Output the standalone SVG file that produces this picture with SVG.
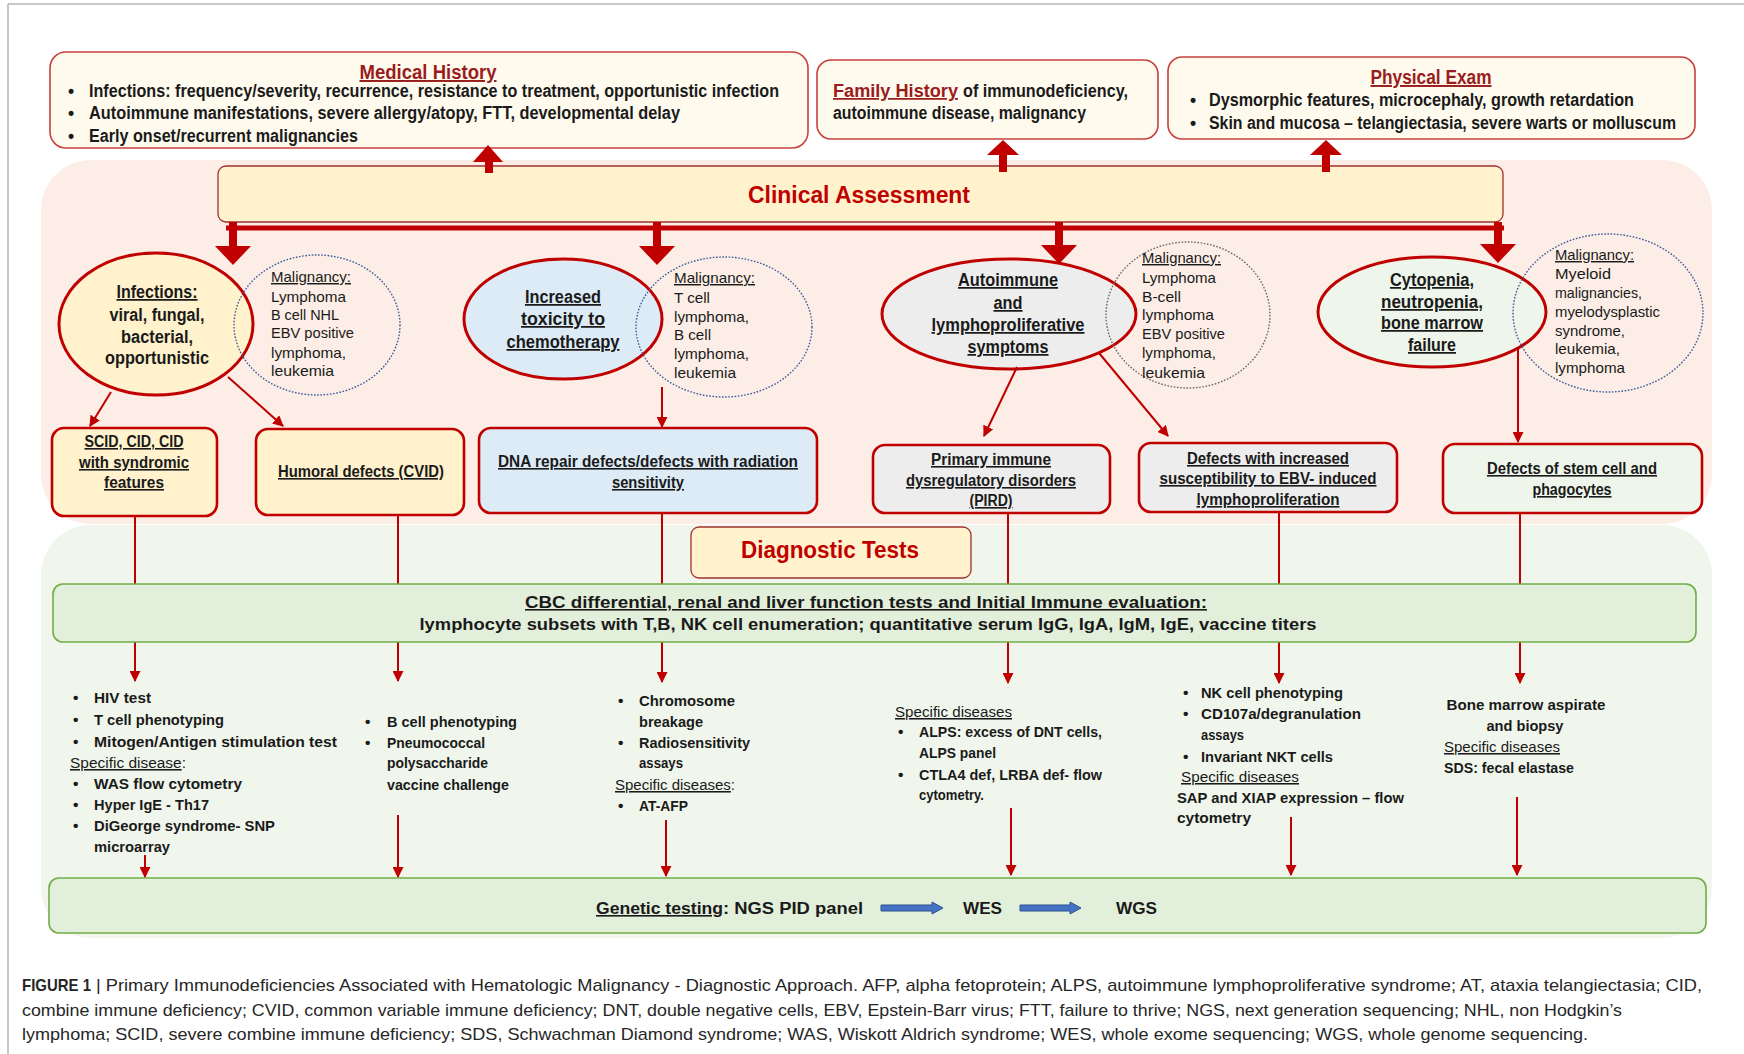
<svg xmlns="http://www.w3.org/2000/svg" width="1744" height="1054" viewBox="0 0 1744 1054">
<style>
text{font-family:"Liberation Sans",Arial,sans-serif;fill:#1a1a1a}
.b{font-weight:bold}
.u{text-decoration:underline}
.m{text-anchor:middle}
.s155{font-size:15.5px}
.s16{font-size:16px}
.s17{font-size:17.5px}
.s145{font-size:14.5px}
.ttl{font-size:19.5px;font-weight:bold;fill:#9A1C1C;text-decoration:underline}
.big{font-size:23px;font-weight:bold;fill:#C00000}
.cap{font-size:17px;fill:#262626}
.topbox{fill:#FFFAEE;stroke:#C8403C;stroke-width:1.6}
.hdr{fill:#FFF2CC;stroke:#A03030;stroke-width:1.3}
.rbox{stroke:#C00000;stroke-width:2.6}
.ell{stroke:#C00000;stroke-width:3}
.yel{fill:#FFF2CC}.blu{fill:#DDEBF7}.gry{fill:#EDEDED}.grn{fill:#EEF5EA}
.mal{fill:none;stroke-width:1.4;stroke-dasharray:1.6 1.6}
.mb{stroke:#3E5C9A}.mg{stroke:#6A6A6A}
.gbox{fill:#E2EFDA;stroke:#70AD47;stroke-width:1.6}
.ln{stroke:#C00000;stroke-width:2;fill:none}
.thick{fill:#C00000}
.blue{fill:#4472C4;stroke:#2F528F;stroke-width:1}
</style>
<defs>
<marker id="ah" viewBox="0 0 10 10" refX="9" refY="5" markerWidth="11" markerHeight="11" markerUnits="userSpaceOnUse" orient="auto"><path d="M0,0 L10,5 L0,10 z" fill="#C00000"/></marker>
</defs>

<!-- frame -->
<line x1="8" y1="4" x2="1744" y2="4" stroke="#B4B4B4" stroke-width="1.5"/>
<line x1="8" y1="4" x2="8" y2="1054" stroke="#B4B4B4" stroke-width="1.5"/>

<!-- background panels -->
<g id="panel-clinical"><rect x="41" y="160" width="1671" height="364" rx="50" fill="#FCEEE6"/></g>
<g id="panel-diagnostic"><rect x="41" y="525" width="1671" height="413" rx="50" fill="#F0F6EC"/></g>

<!-- top boxes -->
<g id="medical-history">
<rect class="topbox" x="50" y="52" width="758" height="96" rx="16"/>
<text class="ttl m" x="428" y="79" textLength="137" lengthAdjust="spacingAndGlyphs">Medical History</text>
<text class="b s17" x="68" y="97">•</text>
<text class="b s17" x="68" y="119">•</text>
<text class="b s17" x="68" y="142">•</text>
<text class="b s17" x="89" y="97" textLength="690" lengthAdjust="spacingAndGlyphs">Infections: frequency/severity, recurrence, resistance to treatment, opportunistic infection</text>
<text class="b s17" x="89" y="119" textLength="591" lengthAdjust="spacingAndGlyphs">Autoimmune manifestations, severe allergy/atopy, FTT, developmental delay</text>
<text class="b s17" x="89" y="142" textLength="269" lengthAdjust="spacingAndGlyphs">Early onset/recurrent malignancies</text>
</g>
<g id="family-history">
<rect class="topbox" x="817" y="60" width="341" height="79" rx="14"/>
<text class="ttl" x="833" y="97" style="font-size:17.5px" textLength="125" lengthAdjust="spacingAndGlyphs">Family History</text>
<text class="b s17" x="963" y="97" textLength="165" lengthAdjust="spacingAndGlyphs">of immunodeficiency,</text>
<text class="b s17" x="833" y="119" textLength="253" lengthAdjust="spacingAndGlyphs">autoimmune disease, malignancy</text>
</g>
<g id="physical-exam">
<rect class="topbox" x="1168" y="57" width="527" height="82" rx="14"/>
<text class="ttl m" x="1431" y="84" textLength="121" lengthAdjust="spacingAndGlyphs">Physical Exam</text>
<text class="b s17" x="1190" y="106">•</text>
<text class="b s17" x="1190" y="129">•</text>
<text class="b s17" x="1209" y="106" textLength="425" lengthAdjust="spacingAndGlyphs">Dysmorphic features, microcephaly, growth retardation</text>
<text class="b s17" x="1209" y="129" textLength="467" lengthAdjust="spacingAndGlyphs">Skin and mucosa – telangiectasia, severe warts or molluscum</text>
</g>

<g id="clinical-assessment">
<rect class="hdr" x="218" y="166" width="1285" height="56" rx="8"/>
<text class="big m" x="859" y="203" textLength="222" lengthAdjust="spacingAndGlyphs">Clinical Assessment</text>
</g>

<!-- ellipses -->
<g id="infections">
<ellipse class="ell yel" cx="156" cy="324" rx="97" ry="71"/>
<text class="b s17 m u" x="157" y="298" textLength="81" lengthAdjust="spacingAndGlyphs">Infections:</text>
<text class="b s17 m" x="157" y="321" textLength="95" lengthAdjust="spacingAndGlyphs">viral, fungal,</text>
<text class="b s17 m" x="157" y="343" textLength="72" lengthAdjust="spacingAndGlyphs">bacterial,</text>
<text class="b s17 m" x="157" y="364" textLength="104" lengthAdjust="spacingAndGlyphs">opportunistic</text>
</g>
<g id="malignancy-1">
<ellipse class="mal mb" cx="317" cy="325" rx="83" ry="70"/>
<text class="s145 u" x="271" y="282" textLength="80" lengthAdjust="spacingAndGlyphs">Malignancy:</text>
<text class="s145" x="271" y="302" textLength="75" lengthAdjust="spacingAndGlyphs">Lymphoma</text>
<text class="s145" x="271" y="320" textLength="68" lengthAdjust="spacingAndGlyphs">B cell NHL</text>
<text class="s145" x="271" y="338" textLength="83" lengthAdjust="spacingAndGlyphs">EBV positive</text>
<text class="s145" x="271" y="358" textLength="75" lengthAdjust="spacingAndGlyphs">lymphoma,</text>
<text class="s145" x="271" y="376" textLength="63" lengthAdjust="spacingAndGlyphs">leukemia</text>
</g>

<g id="toxicity">
<ellipse class="ell blu" cx="563" cy="319" rx="99" ry="60"/>
<text class="b s17 m u" x="563" y="303" textLength="76" lengthAdjust="spacingAndGlyphs">Increased</text>
<text class="b s17 m u" x="563" y="325" textLength="84" lengthAdjust="spacingAndGlyphs">toxicity to</text>
<text class="b s17 m u" x="563" y="348" textLength="113" lengthAdjust="spacingAndGlyphs">chemotherapy</text>
</g>
<g id="malignancy-2">
<ellipse class="mal mb" cx="724" cy="327" rx="88" ry="70"/>
<text class="s145 u" x="674" y="283" textLength="81" lengthAdjust="spacingAndGlyphs">Malignancy:</text>
<text class="s145" x="674" y="303" textLength="36" lengthAdjust="spacingAndGlyphs">T cell</text>
<text class="s145" x="674" y="322" textLength="75" lengthAdjust="spacingAndGlyphs">lymphoma,</text>
<text class="s145" x="674" y="340" textLength="37" lengthAdjust="spacingAndGlyphs">B cell</text>
<text class="s145" x="674" y="359" textLength="75" lengthAdjust="spacingAndGlyphs">lymphoma,</text>
<text class="s145" x="674" y="378" textLength="62" lengthAdjust="spacingAndGlyphs">leukemia</text>
</g>

<g id="autoimmune">
<ellipse class="ell gry" cx="1009" cy="314" rx="127" ry="55"/>
<text class="b s17 m u" x="1008" y="286" textLength="100" lengthAdjust="spacingAndGlyphs">Autoimmune</text>
<text class="b s17 m u" x="1008" y="309" textLength="29" lengthAdjust="spacingAndGlyphs">and</text>
<text class="b s17 m u" x="1008" y="331" textLength="153" lengthAdjust="spacingAndGlyphs">lymphoproliferative</text>
<text class="b s17 m u" x="1008" y="353" textLength="81" lengthAdjust="spacingAndGlyphs">symptoms</text>
</g>
<g id="malignancy-3">
<ellipse class="mal mg" cx="1188" cy="315" rx="82" ry="73"/>
<text class="s145 u" x="1142" y="263" textLength="79" lengthAdjust="spacingAndGlyphs">Malignancy:</text>
<text class="s145" x="1142" y="283" textLength="74" lengthAdjust="spacingAndGlyphs">Lymphoma</text>
<text class="s145" x="1142" y="302" textLength="39" lengthAdjust="spacingAndGlyphs">B-cell</text>
<text class="s145" x="1142" y="320" textLength="72" lengthAdjust="spacingAndGlyphs">lymphoma</text>
<text class="s145" x="1142" y="339" textLength="83" lengthAdjust="spacingAndGlyphs">EBV positive</text>
<text class="s145" x="1142" y="358" textLength="74" lengthAdjust="spacingAndGlyphs">lymphoma,</text>
<text class="s145" x="1142" y="378" textLength="63" lengthAdjust="spacingAndGlyphs">leukemia</text>
</g>

<g id="cytopenia">
<ellipse class="ell grn" cx="1432" cy="312" rx="114" ry="55"/>
<text class="b s17 m u" x="1432" y="286" textLength="84" lengthAdjust="spacingAndGlyphs">Cytopenia,</text>
<text class="b s17 m u" x="1432" y="308" textLength="102" lengthAdjust="spacingAndGlyphs">neutropenia,</text>
<text class="b s17 m u" x="1432" y="329" textLength="102" lengthAdjust="spacingAndGlyphs">bone marrow</text>
<text class="b s17 m u" x="1432" y="351" textLength="48" lengthAdjust="spacingAndGlyphs">failure</text>
</g>
<g id="malignancy-4">
<ellipse class="mal mb" cx="1608" cy="313" rx="95" ry="79"/>
<text class="s145 u" x="1555" y="260" textLength="79" lengthAdjust="spacingAndGlyphs">Malignancy:</text>
<text class="s145" x="1555" y="279" textLength="56" lengthAdjust="spacingAndGlyphs">Myeloid</text>
<text class="s145" x="1555" y="298" textLength="87" lengthAdjust="spacingAndGlyphs">malignancies,</text>
<text class="s145" x="1555" y="317" textLength="105" lengthAdjust="spacingAndGlyphs">myelodysplastic</text>
<text class="s145" x="1555" y="336" textLength="70" lengthAdjust="spacingAndGlyphs">syndrome,</text>
<text class="s145" x="1555" y="354" textLength="65" lengthAdjust="spacingAndGlyphs">leukemia,</text>
<text class="s145" x="1555" y="373" textLength="70" lengthAdjust="spacingAndGlyphs">lymphoma</text>
</g>

<!-- second-row boxes -->
<g id="scid">
<rect class="rbox yel" x="52" y="428" width="165" height="88" rx="12"/>
<text class="b s16 m u" x="134" y="447" textLength="99" lengthAdjust="spacingAndGlyphs">SCID, CID, CID</text>
<text class="b s16 m u" x="134" y="468" textLength="110" lengthAdjust="spacingAndGlyphs">with syndromic</text>
<text class="b s16 m u" x="134" y="488" textLength="60" lengthAdjust="spacingAndGlyphs">features</text>
</g>
<g id="humoral">
<rect class="rbox yel" x="256" y="429" width="208" height="86" rx="12"/>
<text class="b s16 m u" x="361" y="477" textLength="166" lengthAdjust="spacingAndGlyphs">Humoral defects (CVID)</text>
</g>
<g id="dna-repair">
<rect class="rbox blu" x="479" y="428" width="338" height="85" rx="12"/>
<text class="b s16 m u" x="648" y="467" textLength="300" lengthAdjust="spacingAndGlyphs">DNA repair defects/defects with radiation</text>
<text class="b s16 m u" x="648" y="488" textLength="72" lengthAdjust="spacingAndGlyphs">sensitivity</text>
</g>
<g id="pird">
<rect class="rbox gry" x="873" y="445" width="237" height="68" rx="12"/>
<text class="b s16 m u" x="991" y="465" textLength="120" lengthAdjust="spacingAndGlyphs">Primary immune</text>
<text class="b s16 m u" x="991" y="486" textLength="170" lengthAdjust="spacingAndGlyphs">dysregulatory disorders</text>
<text class="b s16 m u" x="991" y="506" textLength="43" lengthAdjust="spacingAndGlyphs">(PIRD)</text>
</g>
<g id="ebv">
<rect class="rbox gry" x="1139" y="443" width="258" height="69" rx="12"/>
<text class="b s16 m u" x="1268" y="464" textLength="162" lengthAdjust="spacingAndGlyphs">Defects with increased</text>
<text class="b s16 m u" x="1268" y="484" textLength="217" lengthAdjust="spacingAndGlyphs">susceptibility to EBV- induced</text>
<text class="b s16 m u" x="1268" y="505" textLength="143" lengthAdjust="spacingAndGlyphs">lymphoproliferation</text>
</g>
<g id="stem-cell">
<rect class="rbox grn" x="1443" y="444" width="259" height="69" rx="12"/>
<text class="b s16 m u" x="1572" y="474" textLength="170" lengthAdjust="spacingAndGlyphs">Defects of stem cell and</text>
<text class="b s16 m u" x="1572" y="495" textLength="79" lengthAdjust="spacingAndGlyphs">phagocytes</text>
</g>

<!-- connectors -->
<g id="connectors">
<!-- up arrows to history/exam boxes -->
<rect class="thick" x="485" y="158" width="8" height="15"/>
<polygon class="thick" points="473,162 503,162 488,145"/>
<rect class="thick" x="999" y="153" width="8" height="19"/>
<polygon class="thick" points="987,155 1019,155 1003,140"/>
<rect class="thick" x="1322" y="153" width="8" height="19"/>
<polygon class="thick" points="1310,155 1342,155 1326,140"/>
<!-- distribution bar -->
<rect class="thick" x="226" y="225.5" width="1278" height="5"/>
<rect class="thick" x="229" y="222" width="8" height="26"/>
<polygon class="thick" points="215,246 251,246 233,265"/>
<rect class="thick" x="653" y="222" width="8" height="26"/>
<polygon class="thick" points="639,246 675,246 657,265"/>
<rect class="thick" x="1055" y="222" width="8" height="26"/>
<polygon class="thick" points="1041,245 1077,245 1059,264"/>
<rect class="thick" x="1494" y="222" width="8" height="26"/>
<polygon class="thick" points="1480,244 1516,244 1498,263"/>
<!-- ellipse to box arrows -->
<line class="ln" x1="111" y1="392" x2="90" y2="426" marker-end="url(#ah)"/>
<line class="ln" x1="228" y1="377" x2="283" y2="426" marker-end="url(#ah)"/>
<line class="ln" x1="662" y1="387" x2="662" y2="427" marker-end="url(#ah)"/>
<line class="ln" x1="1017" y1="367" x2="984" y2="436" marker-end="url(#ah)"/>
<line class="ln" x1="1099" y1="353" x2="1168" y2="436" marker-end="url(#ah)"/>
<line class="ln" x1="1518" y1="348" x2="1518" y2="442" marker-end="url(#ah)"/>
<!-- box to CBC -->
<line class="ln" x1="135" y1="516" x2="135" y2="584"/>
<line class="ln" x1="398" y1="515" x2="398" y2="584"/>
<line class="ln" x1="662" y1="513" x2="662" y2="584"/>
<line class="ln" x1="1008" y1="513" x2="1008" y2="584"/>
<line class="ln" x1="1279" y1="512" x2="1279" y2="584"/>
<line class="ln" x1="1520" y1="513" x2="1520" y2="584"/>
<!-- CBC to tests -->
<line class="ln" x1="135" y1="642" x2="135" y2="681" marker-end="url(#ah)"/>
<line class="ln" x1="398" y1="642" x2="398" y2="681" marker-end="url(#ah)"/>
<line class="ln" x1="662" y1="642" x2="662" y2="682" marker-end="url(#ah)"/>
<line class="ln" x1="1008" y1="642" x2="1008" y2="683" marker-end="url(#ah)"/>
<line class="ln" x1="1279" y1="642" x2="1279" y2="683" marker-end="url(#ah)"/>
<line class="ln" x1="1520" y1="642" x2="1520" y2="683" marker-end="url(#ah)"/>
<!-- tests to genetic -->
<line class="ln" x1="145" y1="855" x2="145" y2="877" marker-end="url(#ah)"/>
<line class="ln" x1="398" y1="815" x2="398" y2="877" marker-end="url(#ah)"/>
<line class="ln" x1="666" y1="820" x2="666" y2="876" marker-end="url(#ah)"/>
<line class="ln" x1="1011" y1="808" x2="1011" y2="875" marker-end="url(#ah)"/>
<line class="ln" x1="1291" y1="817" x2="1291" y2="875" marker-end="url(#ah)"/>
<line class="ln" x1="1517" y1="797" x2="1517" y2="875" marker-end="url(#ah)"/>
</g>

<g id="diagnostic-tests">
<rect class="hdr" x="691" y="527" width="280" height="51" rx="8"/>
<text class="big m" x="830" y="558" textLength="178" lengthAdjust="spacingAndGlyphs">Diagnostic Tests</text>
</g>

<g id="cbc">
<rect class="gbox" x="53" y="584" width="1643" height="58" rx="10"/>
<text class="b s16 m u" x="866" y="608" textLength="682" lengthAdjust="spacingAndGlyphs">CBC differential, renal and liver function tests and Initial Immune evaluation:</text>
<text class="b s16 m" x="868" y="630" textLength="897" lengthAdjust="spacingAndGlyphs">lymphocyte subsets with T,B, NK cell enumeration; quantitative serum IgG, IgA, IgM, IgE, vaccine titers</text>
</g>

<g id="tests-scid">
<text class="b s155" x="73" y="703">•</text>
<text class="b s155" x="73" y="725">•</text>
<text class="b s155" x="73" y="747">•</text>
<text class="b s155" x="73" y="789">•</text>
<text class="b s155" x="73" y="810">•</text>
<text class="b s155" x="73" y="831">•</text>
<text class="b s155" x="94" y="703" textLength="57" lengthAdjust="spacingAndGlyphs">HIV test</text>
<text class="b s155" x="94" y="725" textLength="130" lengthAdjust="spacingAndGlyphs">T cell phenotyping</text>
<text class="b s155" x="94" y="747" textLength="243" lengthAdjust="spacingAndGlyphs">Mitogen/Antigen stimulation test</text>
<text class="s155" x="70" y="768" textLength="116" lengthAdjust="spacingAndGlyphs"><tspan class="u">Specific disease</tspan>:</text>
<text class="b s155" x="94" y="789" textLength="148" lengthAdjust="spacingAndGlyphs">WAS flow cytometry</text>
<text class="b s155" x="94" y="810" textLength="115" lengthAdjust="spacingAndGlyphs">Hyper IgE - Th17</text>
<text class="b s155" x="94" y="831" textLength="181" lengthAdjust="spacingAndGlyphs">DiGeorge syndrome- SNP</text>
<text class="b s155" x="94" y="852" textLength="76" lengthAdjust="spacingAndGlyphs">microarray</text>
</g>
<g id="tests-humoral">
<text class="b s155" x="365" y="727">•</text>
<text class="b s155" x="365" y="748">•</text>
<text class="b s155" x="387" y="727" textLength="130" lengthAdjust="spacingAndGlyphs">B cell phenotyping</text>
<text class="b s155" x="387" y="748" textLength="98" lengthAdjust="spacingAndGlyphs">Pneumococcal</text>
<text class="b s155" x="387" y="768" textLength="101" lengthAdjust="spacingAndGlyphs">polysaccharide</text>
<text class="b s155" x="387" y="790" textLength="122" lengthAdjust="spacingAndGlyphs">vaccine challenge</text>
</g>
<g id="tests-dna">
<text class="b s155" x="618" y="706">•</text>
<text class="b s155" x="618" y="748">•</text>
<text class="b s155" x="618" y="811">•</text>
<text class="b s155" x="639" y="706" textLength="96" lengthAdjust="spacingAndGlyphs">Chromosome</text>
<text class="b s155" x="639" y="727" textLength="64" lengthAdjust="spacingAndGlyphs">breakage</text>
<text class="b s155" x="639" y="748" textLength="111" lengthAdjust="spacingAndGlyphs">Radiosensitivity</text>
<text class="b s155" x="639" y="768" textLength="44" lengthAdjust="spacingAndGlyphs">assays</text>
<text class="s155" x="615" y="790" textLength="120" lengthAdjust="spacingAndGlyphs"><tspan class="u">Specific diseases</tspan>:</text>
<text class="b s155" x="639" y="811" textLength="49" lengthAdjust="spacingAndGlyphs">AT-AFP</text>
</g>
<g id="tests-pird">
<text class="s155 u" x="895" y="717" textLength="117" lengthAdjust="spacingAndGlyphs">Specific diseases</text>
<text class="b s155" x="898" y="737">•</text>
<text class="b s155" x="898" y="780">•</text>
<text class="b s155" x="919" y="737" textLength="183" lengthAdjust="spacingAndGlyphs">ALPS: excess of DNT cells,</text>
<text class="b s155" x="919" y="758" textLength="77" lengthAdjust="spacingAndGlyphs">ALPS panel</text>
<text class="b s155" x="919" y="780" textLength="183" lengthAdjust="spacingAndGlyphs">CTLA4 def, LRBA def- flow</text>
<text class="b s155" x="919" y="800" textLength="65" lengthAdjust="spacingAndGlyphs">cytometry.</text>
</g>
<g id="tests-ebv">
<text class="b s155" x="1183" y="698">•</text>
<text class="b s155" x="1183" y="719">•</text>
<text class="b s155" x="1183" y="762">•</text>
<text class="b s155" x="1201" y="698" textLength="142" lengthAdjust="spacingAndGlyphs">NK cell phenotyping</text>
<text class="b s155" x="1201" y="719" textLength="160" lengthAdjust="spacingAndGlyphs">CD107a/degranulation</text>
<text class="b s155" x="1201" y="740" textLength="43" lengthAdjust="spacingAndGlyphs">assays</text>
<text class="b s155" x="1201" y="762" textLength="132" lengthAdjust="spacingAndGlyphs">Invariant NKT cells</text>
<text class="s155 u" x="1181" y="782" textLength="118" lengthAdjust="spacingAndGlyphs">Specific diseases</text>
<text class="b s155" x="1177" y="803" textLength="227" lengthAdjust="spacingAndGlyphs">SAP and XIAP expression – flow</text>
<text class="b s155" x="1177" y="823" textLength="74" lengthAdjust="spacingAndGlyphs">cytometry</text>
</g>
<g id="tests-stem">
<text class="b s155 m" x="1526" y="710" textLength="159" lengthAdjust="spacingAndGlyphs">Bone marrow aspirate</text>
<text class="b s155 m" x="1525" y="731" textLength="77" lengthAdjust="spacingAndGlyphs">and biopsy</text>
<text class="s155 u" x="1444" y="752" textLength="116" lengthAdjust="spacingAndGlyphs">Specific diseases</text>
<text class="b s155" x="1444" y="773" textLength="130" lengthAdjust="spacingAndGlyphs">SDS: fecal elastase</text>
</g>

<g id="genetic-testing">
<rect class="gbox" x="49" y="878" width="1657" height="55" rx="10"/>
<text class="b s16 u" x="596" y="914" textLength="127" lengthAdjust="spacingAndGlyphs">Genetic testing</text>
<text class="b s16" x="723" y="914" textLength="140" lengthAdjust="spacingAndGlyphs">: NGS PID panel</text>
<polygon class="blue" points="881,905 932,905 932,902 943,908 932,914 932,911 881,911"/>
<text class="b s16" x="963" y="914" textLength="39" lengthAdjust="spacingAndGlyphs">WES</text>
<polygon class="blue" points="1020,905 1070,905 1070,902 1081,908 1070,914 1070,911 1020,911"/>
<text class="b s16" x="1116" y="914" textLength="41" lengthAdjust="spacingAndGlyphs">WGS</text>
</g>

<g id="caption">
<text class="cap b" x="22" y="991" textLength="69" lengthAdjust="spacingAndGlyphs">FIGURE 1</text>
<text class="cap" x="96" y="991" textLength="1606" lengthAdjust="spacingAndGlyphs">| Primary Immunodeficiencies Associated with Hematologic Malignancy - Diagnostic Approach. AFP, alpha fetoprotein; ALPS, autoimmune lymphoproliferative syndrome; AT, ataxia telangiectasia; CID,</text>
<text class="cap" x="22" y="1016" textLength="1600" lengthAdjust="spacingAndGlyphs">combine immune deficiency; CVID, common variable immune deficiency; DNT, double negative cells, EBV, Epstein-Barr virus; FTT, failure to thrive; NGS, next generation sequencing; NHL, non Hodgkin’s</text>
<text class="cap" x="22" y="1040" textLength="1566" lengthAdjust="spacingAndGlyphs">lymphoma; SCID, severe combine immune deficiency; SDS, Schwachman Diamond syndrome; WAS, Wiskott Aldrich syndrome; WES, whole exome sequencing; WGS, whole genome sequencing.</text>
</g>
</svg>
